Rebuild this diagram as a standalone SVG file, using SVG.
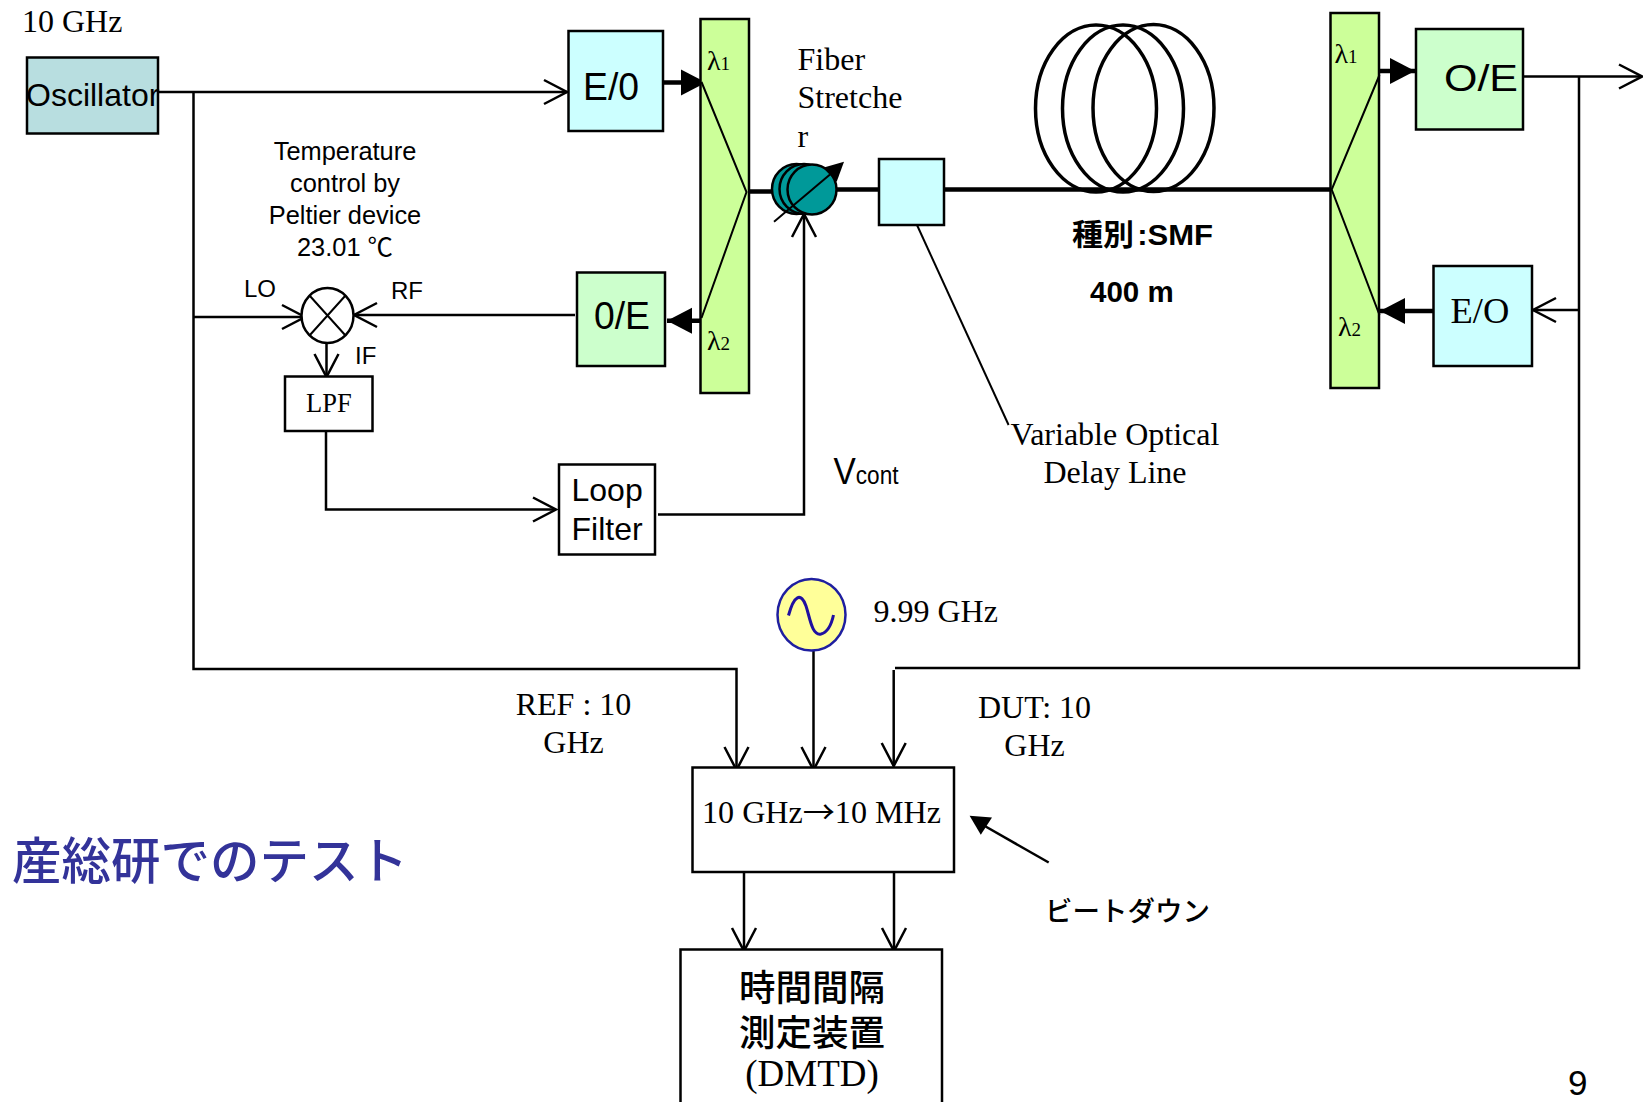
<svg xmlns="http://www.w3.org/2000/svg" width="1643" height="1102" viewBox="0 0 1643 1102">
<style>
.b{stroke:#000;stroke-width:2.5}
.l{fill:none;stroke:#000;stroke-width:2.5}
.t{fill:none;stroke:#000;stroke-width:4.5}
.i{fill:none;stroke:#000;stroke-width:2}
.c{fill:none;stroke:#000;stroke-width:3.5}
.s{font-family:"Liberation Sans","Noto Sans CJK JP",sans-serif;fill:#000}
.r{font-family:"Liberation Serif","Noto Sans CJK JP",serif;fill:#000}
.j{font-family:"Noto Sans CJK JP",sans-serif;fill:#000}
.m{text-anchor:middle}
.r31{font-size:32px}
.cyan{fill:#CCFFFF}.grn{fill:#CCFFCC}.lime{fill:#CCFF99}
</style>
<defs>
<marker id="open" markerUnits="userSpaceOnUse" markerWidth="30" markerHeight="30" viewBox="-25 -15 30 30" refX="0" refY="0" orient="auto" overflow="visible"><path d="M-23,-12 L0,0 L-23,12" fill="none" stroke="#000" stroke-width="2.5"/></marker>
<marker id="solid" markerUnits="userSpaceOnUse" markerWidth="30" markerHeight="30" viewBox="-28 -15 30 30" refX="0" refY="0" orient="auto" overflow="visible"><path d="M-25,-13 L0,0 L-25,13 Z" fill="#000"/></marker>
</defs>
<rect width="1643" height="1102" fill="#fff"/>

<g id="connectors">
<path class="l" d="M158,92 H567" marker-end="url(#open)"/>
<path class="l" d="M193.500,92 V669 H736.500 V770" marker-end="url(#open)"/>
<path class="l" d="M194,317 H305" marker-end="url(#open)"/>
<path class="l" d="M575,315 H354" marker-end="url(#open)"/>
<path class="l" d="M326.500,343 V377" marker-end="url(#open)"/>
<path class="l" d="M326,431 V509.500 H556" marker-end="url(#open)"/>
<path class="l" d="M658,514.500 H804 V214" marker-end="url(#open)"/>
<path class="l" d="M1523,76.500 H1642" marker-end="url(#open)"/>
<path class="l" d="M1579,76.500 V668 H895"/>
<path class="l" d="M893.700,670 V766" marker-end="url(#open)"/>
<path class="l" d="M1579,310 H1533" marker-end="url(#open)"/>
<path class="l" d="M813.500,651 V770" marker-end="url(#open)"/>
<path class="l" d="M744,872 V951" marker-end="url(#open)"/>
<path class="l" d="M894,869 V951" marker-end="url(#open)"/>
<path class="l" d="M1048.700,862.500 L983,825"/>
<path d="M969.600,815.800 L992,817.500 L980.800,834.800 Z" fill="#000"/>
<path class="t" d="M663,82.500 H706" marker-end="url(#solid)"/>
<path class="t" d="M702,320.700 H667" marker-end="url(#solid)"/>
<path class="t" d="M1380,71 H1415" marker-end="url(#solid)"/>
<path class="t" d="M1433,311 H1380" marker-end="url(#solid)"/>
<path class="t" d="M747,191.500 H775"/>
<path class="t" d="M836,189.500 H879"/>
<path class="t" d="M944,189.500 H1331"/>
<path class="i" d="M917,225 L1008.600,425"/>
</g>

<g id="oscillator">
<rect class="b" x="27" y="57.500" width="131" height="76" fill="#B8DEE0"/>
<text class="s" x="26" y="105.500" font-size="32">Oscillator</text>
</g>
<text id="label-10ghz" class="r r31" x="22" y="32">10 GHz</text>

<g id="eo-left">
<rect class="b" x="568.500" y="31" width="94.500" height="100" fill="#CCFFFF"/>
<text class="s" x="583" y="100" font-size="38" textLength="56" lengthAdjust="spacingAndGlyphs">E/0</text>
</g>

<g id="wdm-left">
<rect class="b lime" x="700.500" y="19" width="48.500" height="374"/>
<path class="i" d="M701.500,82 L746.500,192 L701.500,318"/>
<text class="r" x="707" y="70" font-size="28">λ<tspan font-size="19">1</tspan></text>
<text class="r" x="707" y="350" font-size="28">λ<tspan font-size="19">2</tspan></text>
</g>

<g id="oe-left">
<rect class="b grn" x="577" y="272.500" width="88" height="93.500"/>
<text class="s" x="594" y="329" font-size="38" textLength="56" lengthAdjust="spacingAndGlyphs">0/E</text>
</g>

<g id="mixer">
<ellipse class="b" cx="327.500" cy="315.500" rx="26" ry="27.500" fill="#fff"/>
<path class="i" d="M309.500,295.500 L345.500,335.500 M345.500,295.500 L309.500,335.500"/>
</g>
<text id="label-lo" class="s" x="244" y="297" font-size="24">LO</text>
<text id="label-rf" class="s" x="391" y="298.500" font-size="24">RF</text>
<text id="label-if" class="s" x="355" y="363.500" font-size="24">IF</text>

<g id="temperature-label">
<text class="s m" x="345" y="160" font-size="25.400">Temperature</text>
<text class="s m" x="345" y="192" font-size="25.400">control by</text>
<text class="s m" x="345" y="224" font-size="25.400">Peltier device</text>
<text class="s m" x="345" y="255.500" font-size="25.400">23.01 ℃</text>
</g>

<g id="lpf">
<rect class="b" x="285" y="376.500" width="87.500" height="54.500" fill="#fff"/>
<text class="r" x="306" y="412" font-size="26.500">LPF</text>
</g>

<g id="loop-filter">
<rect class="b" x="559" y="464.500" width="96" height="90" fill="#fff"/>
<text class="s" x="571.500" y="501" font-size="32">Loop</text>
<text class="s" x="571.500" y="540" font-size="32">Filter</text>
</g>

<g id="fiber-stretcher">
<ellipse class="b" cx="796.500" cy="189" rx="24.500" ry="25" fill="#009999"/>
<ellipse class="b" cx="804" cy="189" rx="24.500" ry="25" fill="#009999"/>
<ellipse class="b" cx="812" cy="189.500" rx="24.500" ry="25" fill="#009999"/>
<path class="i" d="M774,221.700 L830,174.500"/>
<path d="M844,161.700 L823,167.700 L836.700,181.700 Z" fill="#000"/>
<text class="r r31" x="797.500" y="69.500">Fiber</text>
<text class="r r31" x="797.500" y="107.500">Stretche</text>
<text class="r r31" x="797.500" y="146.500">r</text>
</g>

<g id="delay-line">
<rect class="b cyan" x="879" y="159" width="65" height="66"/>
<text class="r r31 m" x="1115" y="445">Variable Optical</text>
<text class="r r31 m" x="1115" y="482.500">Delay Line</text>
</g>

<g id="fiber-coil">
<ellipse class="c" cx="1096" cy="108.500" rx="60.500" ry="83.500"/>
<ellipse class="c" cx="1123" cy="108.500" rx="60.500" ry="83.500"/>
<ellipse class="c" cx="1153.500" cy="108" rx="60.500" ry="83.500"/>
<text class="j" x="1072" y="245" font-size="30" font-weight="700" textLength="141" lengthAdjust="spacingAndGlyphs">種別<tspan class="s" dx="3">:SMF</tspan></text>
<text class="s" x="1090" y="302" font-size="29.500" font-weight="700">400 m</text>
</g>

<g id="wdm-right">
<rect class="b lime" x="1330.500" y="13" width="48.500" height="375"/>
<path class="i" d="M1379.500,75 L1331.700,189.500 L1379.500,315"/>
<text class="r" x="1334.500" y="63" font-size="28">λ<tspan font-size="19">1</tspan></text>
<text class="r" x="1338" y="336" font-size="28">λ<tspan font-size="19">2</tspan></text>
</g>

<g id="oe-right">
<rect class="b grn" x="1416" y="29" width="107" height="100.500"/>
<text class="s" x="1444" y="91" font-size="37" textLength="74" lengthAdjust="spacingAndGlyphs">O/E</text>
</g>

<g id="eo-right">
<rect class="b cyan" x="1433.500" y="266" width="98.500" height="100"/>
<text class="r" x="1450.500" y="322.500" font-size="36.500">E/O</text>
</g>

<text id="vcont-label" class="s" x="833.500" y="484" font-size="37" textLength="65" lengthAdjust="spacingAndGlyphs">V<tspan font-size="25">cont</tspan></text>

<g id="signal-generator">
<ellipse cx="811.500" cy="614.800" rx="34" ry="35.800" fill="#FFFF99" stroke="#1F1FA0" stroke-width="2.500"/>
<path d="M788.500,615.500 C794,595 801,592 806,606 C810,618 812,636 821,634 C829,632 832,622 833.500,615" fill="none" stroke="#2010A0" stroke-width="3"/>
<text class="r r31" x="873.500" y="621.500">9.99 GHz</text>
</g>

<g id="ref-label">
<text class="r r31 m" x="573.500" y="715">REF : 10</text>
<text class="r r31 m" x="573.500" y="753">GHz</text>
</g>
<g id="dut-label">
<text class="r r31 m" x="1034.500" y="718">DUT: 10</text>
<text class="r r31 m" x="1034.500" y="756">GHz</text>
</g>

<g id="beat-down">
<rect class="b" x="692.500" y="767.500" width="261.500" height="104.500" fill="#fff"/>
<text class="r" x="702" y="822.500" font-size="31" textLength="239" lengthAdjust="spacingAndGlyphs">10 GHz<tspan class="j">→</tspan>10 MHz</text>
</g>
<text id="label-beat" class="j" x="1045" y="920.500" font-size="27.500" font-weight="500">ビートダウン</text>

<g id="dmtd">
<rect class="b" x="680.500" y="949.500" width="261.500" height="170" fill="#fff"/>
<text class="j m" x="812" y="1001" font-size="36.500" font-weight="500">時間間隔</text>
<text class="j m" x="812" y="1045.500" font-size="36.500" font-weight="500">測定装置</text>
<text class="r m" x="812" y="1086" font-size="37">(DMTD)</text>
</g>

<text id="title" class="j" x="12" y="879" font-size="49.500" font-weight="500" style="fill:#333399">産総研でのテスト</text>
<text id="page-number" class="s" x="1568" y="1095" font-size="35">9</text>
</svg>
